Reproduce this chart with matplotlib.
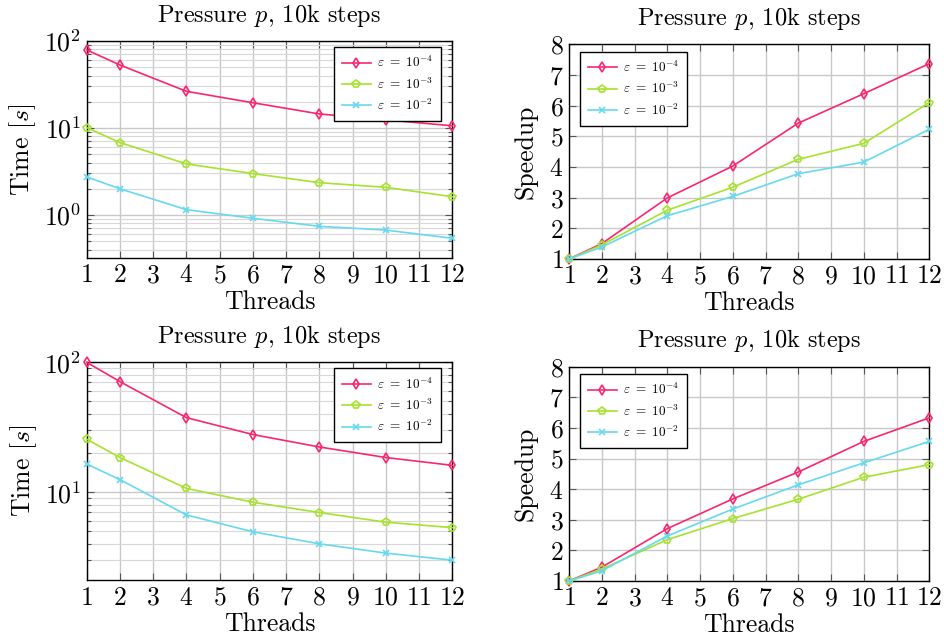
import matplotlib
matplotlib.use("Agg")
import matplotlib.pyplot as plt
from matplotlib.ticker import LogLocator, NullFormatter, MultipleLocator

plt.rcParams['font.family'] = ['cmr10', 'DejaVu Serif']
plt.rcParams['mathtext.fontset'] = 'cm'
plt.rcParams['axes.formatter.use_mathtext'] = True
plt.rcParams['axes.unicode_minus'] = False

threads = [1, 2, 4, 6, 8, 10, 12]
labels = [r'$\varepsilon\ =\ 10^{-4}$', r'$\varepsilon\ =\ 10^{-3}$', r'$\varepsilon\ =\ 10^{-2}$']
colors = ['#f92672', '#a6e22e', '#66d9ef']
markers = ['d', 'p', 'x']

# top row
time_top_e4 = [79, 53, 26.4, 19.5, 14.5, 12.4, 10.6]
time_top_e3 = [10.1, 6.8, 3.86, 2.99, 2.35, 2.08, 1.62]
time_top_e2 = [2.74, 2.0, 1.15, 0.916, 0.74, 0.67, 0.54]
speed_top_e4 = [1, 1.5, 2.99, 4.03, 5.43, 6.39, 7.37]
speed_top_e3 = [1, 1.46, 2.59, 3.34, 4.25, 4.77, 6.1]
speed_top_e2 = [1, 1.39, 2.41, 3.04, 3.78, 4.16, 5.23]

# bottom row
time_bot_e4 = [100, 71, 37.5, 27.8, 22.3, 18.5, 16.1]
time_bot_e3 = [25.6, 18.5, 10.7, 8.38, 6.98, 5.88, 5.34]
time_bot_e2 = [16.5, 12.5, 6.69, 4.96, 4.01, 3.40, 3.0]
speed_bot_e4 = [1, 1.45, 2.71, 3.68, 4.56, 5.56, 6.33]
speed_bot_e3 = [1, 1.39, 2.35, 3.04, 3.67, 4.39, 4.80]
speed_bot_e2 = [1, 1.33, 2.47, 3.35, 4.14, 4.86, 5.56]

title = r'Pressure $p$, 10k steps'

W, H = 945, 641
fig = plt.figure(figsize=(W/100, H/100), dpi=100)

def rect(l, r, t, b):
    return [l/W, 1 - b/H, (r-l)/W, (b-t)/H]

def style(ax):
    ax.set_xlim(1, 12)
    ax.xaxis.set_major_locator(MultipleLocator(1))
    ax.tick_params(which='both', direction='in', top=True, right=True,
                   colors='#555555', labelcolor='black', labelsize=18.5, width=0.8)
    ax.tick_params(which='major', length=5, pad=4)
    ax.tick_params(which='minor', length=3)
    ax.grid(True, which='major', color='#c8c8c8', lw=1.0)
    for s in ax.spines.values():
        s.set_color('black')
        s.set_linewidth(1.0)
    ax.set_xlabel('Threads', fontsize=18.5, labelpad=2)
    ax.set_title(title, fontsize=17.5, pad=14)

def plot_series(ax, series):
    for ys, c, m, lab in zip(series, colors, markers, labels):
        ax.plot(threads, ys, color=c, marker=m, markersize=5.5 if m != 'x' else 4.5,
                markerfacecolor='none' if m != 'x' else c, markeredgewidth=1.2,
                lw=1.2, label=lab, clip_on=False, zorder=3)

def make_legend(ax, loc, anchor):
    leg = ax.legend(loc=loc, fontsize=9.5, fancybox=False, edgecolor='black',
                    framealpha=1, borderpad=0.6, labelspacing=0.45, handlelength=2.2,
                    handletextpad=0.5, borderaxespad=0, bbox_to_anchor=anchor)
    leg.get_frame().set_linewidth(1.0)

def time_ax(ax, series, ylim):
    plot_series(ax, series)
    ax.set_yscale('log')
    ax.set_ylim(*ylim)
    ax.yaxis.set_minor_locator(LogLocator(base=10, subs=range(2, 10)))
    ax.yaxis.set_minor_formatter(NullFormatter())
    ax.grid(True, which='minor', axis='y', color='#d8d8d8', lw=0.8)
    style(ax)
    ax.set_ylabel(r'Time $[s]$', fontsize=18.5, labelpad=4)
    make_legend(ax, 'upper right', (0.97, 0.972))

def speed_ax(ax, series):
    plot_series(ax, series)
    ax.set_ylim(1, 8)
    ax.yaxis.set_major_locator(MultipleLocator(1))
    style(ax)
    ax.set_ylabel('Speedup', fontsize=18.5, labelpad=8)
    make_legend(ax, 'upper left', (0.03, 0.965))

ax1 = fig.add_axes(rect(86.7, 452.3, 41, 258))
time_ax(ax1, [time_top_e4, time_top_e3, time_top_e2], (0.32, 100))
ax2 = fig.add_axes(rect(569, 929.3, 44.3, 259))
speed_ax(ax2, [speed_top_e4, speed_top_e3, speed_top_e2])
ax3 = fig.add_axes(rect(86.7, 452.3, 362.3, 580.3))
time_ax(ax3, [time_bot_e4, time_bot_e3, time_bot_e2], (2.1, 100))
ax4 = fig.add_axes(rect(569, 929.3, 366.7, 581))
speed_ax(ax4, [speed_bot_e4, speed_bot_e3, speed_bot_e2])

fig.savefig('out.png', dpi=100)
